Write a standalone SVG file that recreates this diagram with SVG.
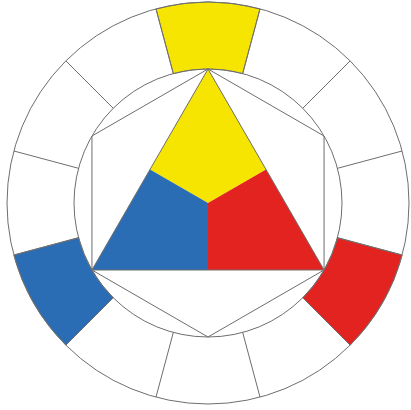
<svg xmlns="http://www.w3.org/2000/svg" width="411" height="410" viewBox="0 0 411 410">
<style>
.ln{fill:none;stroke:#6e6e6e;stroke-width:1}
.y{fill:#f6e500}
.b{fill:#2b6db5}
.r{fill:#e3231f}
.seg{stroke:#6e6e6e;stroke-width:0.8}
</style>
<rect width="411" height="410" fill="#ffffff"/>
<g id="ring">
<path id="seg-yellow" class="y seg" d="M173.32 73.57 L155.98 8.85 A201 201 0 0 1 260.02 8.85 L242.68 73.57 A134 134 0 0 0 173.32 73.57 Z"/>
<path id="seg-red" class="r seg" d="M337.43 237.68 L402.15 255.02 A201 201 0 0 1 350.13 345.13 L302.75 297.75 A134 134 0 0 0 337.43 237.68 Z"/>
<path id="seg-blue" class="b seg" d="M78.57 237.68 L13.85 255.02 A201 201 0 0 0 65.87 345.13 L113.25 297.75 A134 134 0 0 1 78.57 237.68 Z"/>
<circle class="ln" cx="208" cy="203" r="201"/>
<circle class="ln" cx="208" cy="203" r="134"/>
<path class="ln" d="M337.43 237.68L402.15 255.02M302.75 297.75L350.13 345.13M242.68 332.43L260.02 397.15M173.32 332.43L155.98 397.15M113.25 297.75L65.87 345.13M78.57 237.68L13.85 255.02M78.57 168.32L13.85 150.98M113.25 108.25L65.87 60.87M173.32 73.57L155.98 8.85M242.68 73.57L260.02 8.85M302.75 108.25L350.13 60.87M337.43 168.32L402.15 150.98"/>
</g>
<g id="triangle">
<polygon id="tri-yellow" class="y" points="208,69 266.02,169.5 208,203 149.98,169.5"/>
<polygon id="tri-blue" class="b" points="91.95,270 149.98,169.5 208,203 208,270"/>
<polygon id="tri-red" class="r" points="324.05,270 266.02,169.5 208,203 208,270"/>
<polygon class="ln" points="208,69 324.05,270 91.95,270"/>
</g>
<g id="hexagon">
<polygon class="ln" points="208,69 324.05,136 324.05,270 208,337 91.95,270 91.95,136"/>
</g>
</svg>
